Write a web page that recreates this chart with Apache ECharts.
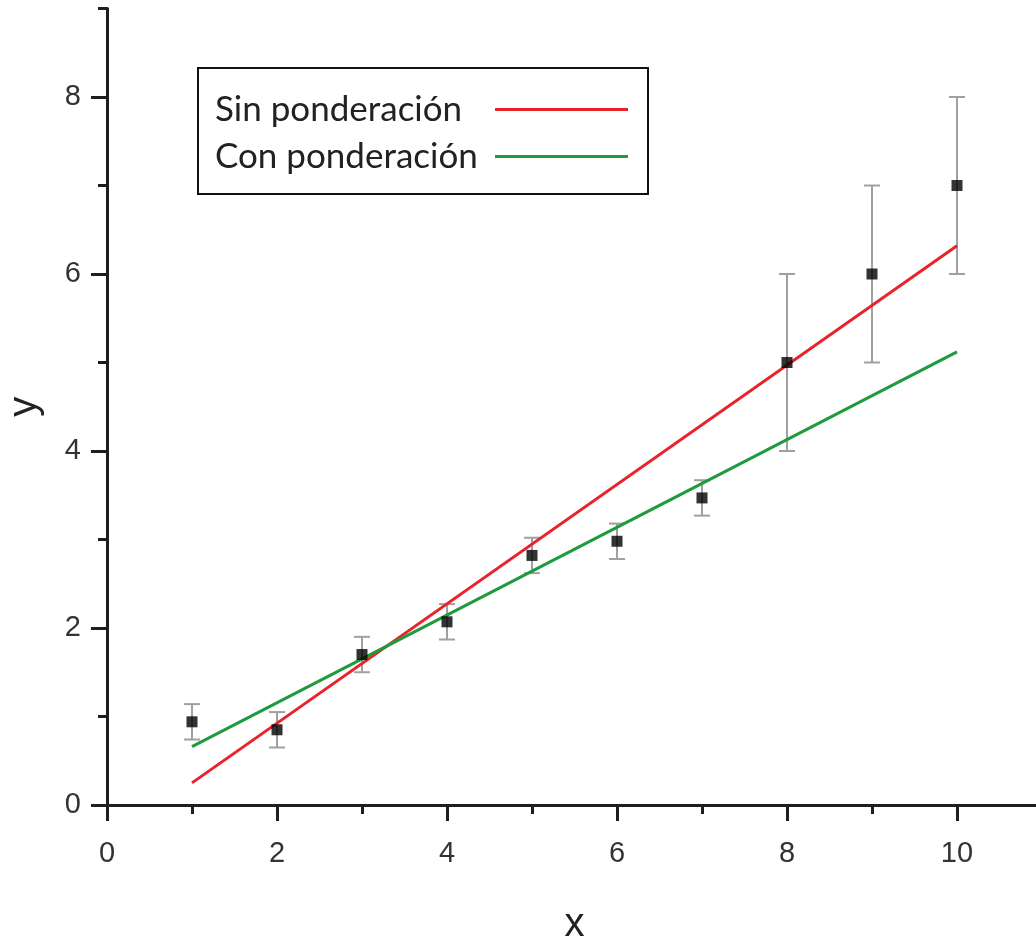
<!DOCTYPE html>
<html>
<head>
<meta charset="utf-8">
<script src="https://cdn.jsdelivr.net/npm/echarts@6/dist/echarts.min.js"></script>
<style>
html,body{margin:0;padding:0;background:#fff;}
#chart{width:1036px;height:936px;}
</style>
</head>
<body>
<div id="chart"></div>
<script>
// ---- data ----
const xValues = [1, 2, 3, 4, 5, 6, 7, 8, 9, 10];
const yValues = [0.94, 0.85, 1.70, 2.07, 2.82, 2.98, 3.47, 5.0, 6.0, 7.0];
const yErrors = [0.2, 0.2, 0.2, 0.2, 0.2, 0.2, 0.2, 1.0, 1.0, 1.0];
const sinPonderacion = [[1, 0.25], [10, 6.32]];
const conPonderacion = [[1, 0.66], [10, 5.12]];
const seriesNames = ['Sin ponderación', 'Con ponderación'];
const xMajorTicks = [0, 2, 4, 6, 8, 10];
const xMinorTicks = [1, 3, 5, 7, 9];
const yMajorTicks = [0, 2, 4, 6, 8];
const yMinorTicks = [1, 3, 5, 7, 9];

const points = xValues.map((x, i) => [x, yValues[i]]);
const errData = xValues.map((x, i) => [x, yValues[i] - yErrors[i], yValues[i] + yErrors[i]]);

const chart = echarts.init(document.getElementById('chart'), null, {renderer: 'canvas'});
const axisColor = '#1e1e1e';
const labelFont = {fontFamily: 'Liberation Sans', fontSize: 29, color: '#333'};

const option = {
  backgroundColor: '#fff',
  animation: false,
  grid: {left: 107, right: -6, top: 8.5, bottom: 131, containLabel: false, outerBoundsMode: 'none'},
  legend: {
    data: seriesNames,
    orient: 'vertical',
    align: 'right',
    left: 198,
    top: 68,
    padding: [23, 20, 19, 17],
    borderColor: '#111',
    borderWidth: 2,
    icon: 'rect',
    itemWidth: 133,
    itemHeight: 3,
    itemGap: 10,
    formatter: function (name) { return '{t|' + name + '}'; },
    textStyle: {
      fontFamily: 'Lato', fontSize: 35, color: '#222', lineHeight: 37,
      rich: {t: {fontFamily: 'Lato', fontSize: 35, color: '#222', lineHeight: 37, width: 275, align: 'left'}}
    }
  },
  xAxis: [
    {
      type: 'value', min: 0, max: 11, position: 'bottom', offset: 0,
      splitLine: {show: false},
      axisLine: {show: true, onZero: false, lineStyle: {color: axisColor, width: 3}},
      axisTick: {show: true, inside: false, length: 16, customValues: xMajorTicks, lineStyle: {color: axisColor, width: 3}},
      axisLabel: Object.assign({margin: 34, customValues: xMajorTicks}, labelFont),
      name: 'x', nameLocation: 'middle', nameGap: 100,
      nameTextStyle: {fontFamily: 'Liberation Sans', fontSize: 40, color: '#222'}
    },
    {
      type: 'value', min: 0, max: 11, position: 'bottom', offset: 0,
      splitLine: {show: false},
      axisLine: {show: false},
      axisTick: {show: true, inside: false, length: 9, customValues: xMinorTicks, lineStyle: {color: axisColor, width: 3}},
      axisLabel: {show: false}
    }
  ],
  yAxis: [
    {
      type: 'value', min: 0, max: 9, position: 'left', offset: 0,
      splitLine: {show: false},
      axisLine: {show: true, onZero: false, lineStyle: {color: axisColor, width: 3}},
      axisTick: {show: true, inside: false, length: 16, customValues: yMajorTicks, lineStyle: {color: axisColor, width: 3}},
      axisLabel: Object.assign({margin: 26, customValues: yMajorTicks}, labelFont),
      name: 'y', nameLocation: 'middle', nameGap: 62, nameRotate: 90,
      nameTextStyle: {fontFamily: 'Liberation Sans', fontSize: 40, color: '#222'}
    },
    {
      type: 'value', min: 0, max: 9, position: 'left', offset: 0,
      splitLine: {show: false},
      axisLine: {show: false},
      axisTick: {show: true, inside: false, length: 9, customValues: yMinorTicks, lineStyle: {color: axisColor, width: 3}},
      axisLabel: {show: false}
    }
  ],
  series: [
    {
      name: 'error',
      type: 'custom',
      xAxisIndex: 0, yAxisIndex: 0,
      z: 2,
      data: errData,
      renderItem: function (params, api) {
        const x = api.value(0);
        const lo = api.coord([x, api.value(1)]);
        const hi = api.coord([x, api.value(2)]);
        const cap = 8;
        const style = {stroke: '#a0a0a0', lineWidth: 2};
        return {
          type: 'group',
          children: [
            {type: 'line', shape: {x1: lo[0], y1: lo[1], x2: hi[0], y2: hi[1]}, style: style},
            {type: 'line', shape: {x1: lo[0] - cap, y1: lo[1], x2: lo[0] + cap, y2: lo[1]}, style: style},
            {type: 'line', shape: {x1: hi[0] - cap, y1: hi[1], x2: hi[0] + cap, y2: hi[1]}, style: style}
          ]
        };
      }
    },
    {
      name: seriesNames[0],
      type: 'line',
      xAxisIndex: 0, yAxisIndex: 0,
      z: 3,
      symbol: 'none',
      data: sinPonderacion,
      color: '#e8232b',
      lineStyle: {color: '#e8232b', width: 3}
    },
    {
      name: seriesNames[1],
      type: 'line',
      xAxisIndex: 0, yAxisIndex: 0,
      z: 3,
      symbol: 'none',
      data: conPonderacion,
      color: '#1f9a3c',
      lineStyle: {color: '#1f9a3c', width: 3}
    },
    {
      name: 'points',
      type: 'scatter',
      xAxisIndex: 0, yAxisIndex: 0,
      z: 4,
      symbol: 'rect',
      symbolSize: 11,
      itemStyle: {color: '#000'},
      data: points
    }
  ]
};
chart.setOption(option);
</script>
</body>
</html>
